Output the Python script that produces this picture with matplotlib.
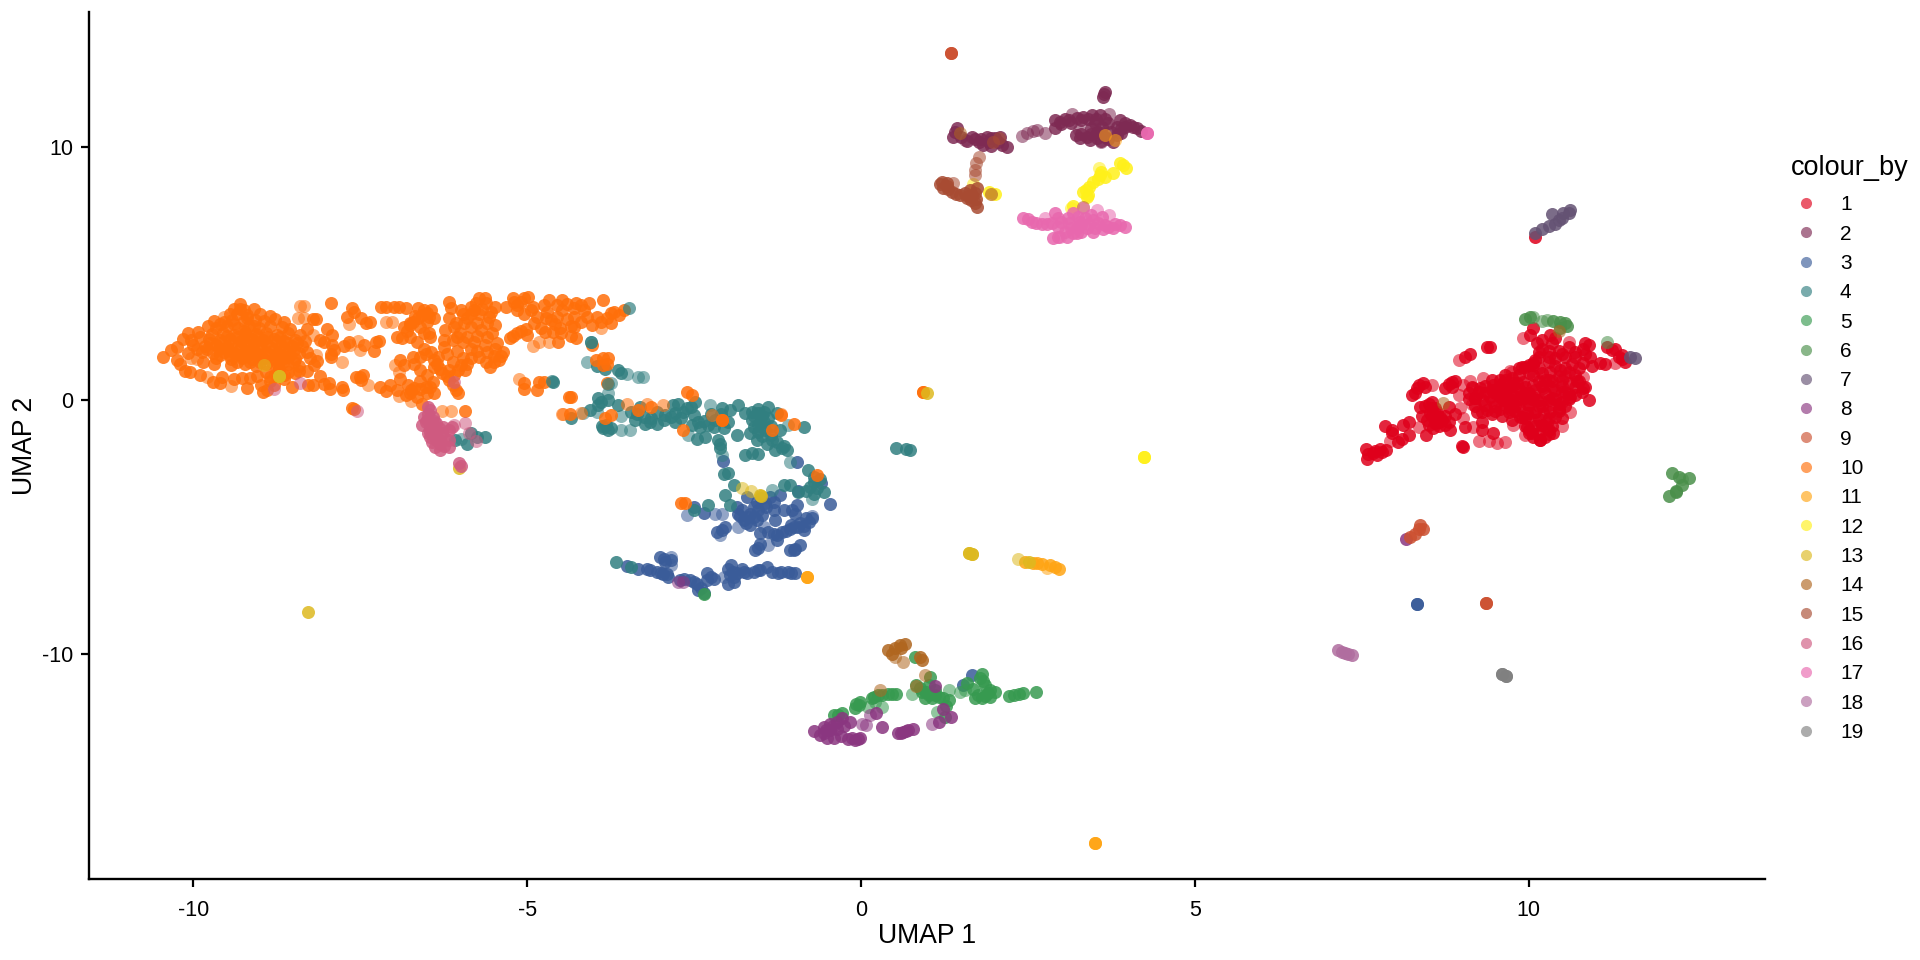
import matplotlib
matplotlib.use("Agg")
import matplotlib.pyplot as plt
from matplotlib.lines import Line2D

plt.rcParams['font.family'] = ['Liberation Sans', 'DejaVu Sans']
plt.rcParams['axes.unicode_minus'] = False

# UMAP coordinates, one list per cluster
pts_1 = [(10.1,6.46),(9.42,2.12),(9.37,2.09),(9.12,1.83),(9.05,1.7),(10.0,1.4),(9.9,1.33),(10.07,1.46),
 (10.07,2.84),(10.02,2.58),(10.12,2.25),(10.2,2.05),(10.32,2.58),(10.35,2.25),(10.4,2.45),(10.85,2.25),(10.9,2.18),
 (10.82,2.05),(11.17,2.12),(11.3,2.05),(11.4,1.79),(11.45,1.53),(11.35,1.72),(11.07,1.49),(11.15,1.45),(10.92,1.72),
 (10.82,1.46),(10.7,1.72),(10.55,1.72),(10.4,1.66),(10.3,1.72),(10.07,1.4),(9.95,1.33),(10.6,1.13),(10.47,1.2),
 (10.32,1.13),(10.2,1.07),(10.07,1.0),(10.65,1.45),(9.92,.74),(9.77,.67),(9.62,.67),(10.07,.6),(10.22,.5),(10.6,.67),
 (10.4,.41),(10.82,.48),(10.7,.21),(10.9,0),(10.5,-.05),(10.07,.15),(9.95,.08),(9.82,.15),(9.67,.15),(10.17,0),
 (9.72,-.25),(9.62,.01),(9.97,-.51),(9.87,-.64),(10.22,-.51),(10.32,-.45),(10.4,-.64),(10.5,-.71),(10.07,-.77),
 (10.27,-.9),(10.37,-1.3),(10.17,-1.56),(10.07,-1.43),(10.0,-1.17),(10.25,-1.43),(10.3,-1.15),
 (8.42,.67),(8.32,.48),(8.25,.21),(8.85,.74),(8.75,.48),(8.5,-.12),(8.37,-.25),(8.6,-.3),(9.57,.8),(9.47,.6),(9.27,.48),
 (9.3,0),(9.42,.15),(9.62,.41),(9.82,.67),(9.57,.15),(9.75,0),(9.95,.28),(9.37,-.38),(9.22,-.45),(9.57,-.32),(9.72,-.32),
 (9.97,-.12),(10.12,0),(10.02,-.51),(9.9,-.64),(9.97,-1.04),(10.05,-1.3),(10.17,-1.56),(8.52,-.51),(8.67,-.64),(8.75,-.97),
 (8.47,-.77),(8.57,-1.1),(8.82,-1.17),(8.8,-.25),(9.05,-1.04),(9.3,-.84),(9.3,-1.17),(9.47,-1.3),(9.02,-1.85),(9.0,-1.8),
 (8.2,-.84),(8.12,-.97),(7.85,-1.0),(7.95,-1.3),(8.05,-1.63),(8.2,-1.37),(8.46,-1.38),(7.77,-1.9),(7.67,-2.09),(7.58,-2.29),
 (7.56,-1.93),(7.73,-2.15),(7.87,-1.96),(7.8,-2.05),(8.6,-.6),(8.65,-.85),(8.4,-.6),(8.55,-.3),(9.5,.35),(9.7,.5),(9.85,.45),
 (10.25,.8),(10.1,.4),(10.35,.75),(9.75,.9),(9.45,.4),(9.2,.1),(9.35,.3),(9.85,-.25),(10.2,-.2),(10.35,.1),(9.6,-.6),
 (9.45,-.55),(9.75,-.75),(10.2,-.95),(10.45,-.35),(10.55,.35),(10.3,1.5),(10.15,1.72),(10.45,1.95),(10.6,2.1)]
pts_1 += [(9.85,1.3),(10.15,1.3),(10.4,1.35),(10.55,1.3),(10.75,1.28),(10.95,1.35),(9.65,1.0),(9.85,1.02),(10.0,1.08),(10.45,.98),(10.7,1.0),
 (9.45,.8),(9.65,.82),(10.15,.78),(10.3,.82),(10.5,.8),(10.72,.78),(9.15,.55),(9.35,.58),(9.55,.53),(9.75,.56),(9.95,.52),(10.2,.57),(10.35,.53),(10.5,.56),(10.7,.52),
 (9.1,.3),(9.25,.33),(9.5,.28),(9.65,.32),(9.8,.27),(10.0,.31),(10.25,.28),(10.5,.33),(10.6,.27),(10.8,.32),(9.1,.05),(9.2,.08),(9.45,.03),(9.65,.07),(9.85,.04),(10.05,.06),(10.3,.03),(10.4,.07),(10.6,.04),
 (9.2,-.2),(9.35,-.17),(9.5,-.22),(9.65,-.18),(9.8,-.22),(10.0,-.18),(10.15,-.22),(10.3,-.18),(10.55,-.22),(9.3,-.45),(9.5,-.43),(9.7,-.47),(9.8,-.43),(10.1,-.46),(10.45,-.43),
 (9.95,-.7),(10.15,-.72),(10.3,-.68),(9.95,-1.0),(10.1,-1.02),(10.2,-.98),(10.35,-1.0),(10.0,-1.3),(10.15,-1.28),(10.3,-1.32),(10.1,1.6),(10.3,1.95),(10.5,1.85),(10.7,1.9),(10.85,1.85),(10.2,2.4),(10.15,1.9),
 (8.35,.6),(8.45,.55),(8.3,.3),(8.55,-.05),(8.45,-.2),(8.62,-.45),(8.75,-.6),(8.55,-.6),(8.8,-.85),(8.65,-1.0),(8.5,-.95),(8.9,-.55),(8.85,.55),(8.8,.65),(8.9,.75),(8.7,-.75),(8.6,-.9),
 (7.6,-2.1),(7.7,-2.0),(7.95,-1.15),(8.1,-1.5),(10.75,.75),(10.85,.55),(10.45,-.15),(10.62,.15),(11.25,2.0),(11.4,1.65)]
light_1 = [(8.95,1.59),(9.75,1.13),(9.92,2.45),(10.61,2.32),(11.3,1.46),(9.72,1.17),(10.82,.94),(10.62,-.45),(9.95,-1.37),
 (9.77,-.97),(9.65,-1.63),(10.5,-1.0),(8.55,.6),(9.02,.6),(9.17,.48),(9.32,.87),(8.97,-.31),(9.02,-.71),(9.17,-1.04),
 (9.25,-1.59),(9.4,-1.59),(9.52,-1.67),(8.35,-1.04),(7.92,-1.59),(9.12,.75),(9.15,-.15),(8.95,.2),(10.55,.95)]

pts_2 = [(3.65,12.18),(3.63,11.98),(2.91,11.06),(2.98,10.99),(3.11,11.06),(3.23,11.13),(3.33,11.19),(3.46,11.26),(3.58,11.26),
 (2.91,10.73),(3.51,10.93),(3.53,10.6),(3.61,10.8),(3.88,11.06),(3.96,10.93),(4.03,10.86),(4.13,10.73),(4.2,10.64),(3.83,10.8),
 (3.28,10.34),(3.38,10.4),(3.53,10.34),(3.66,10.4),(3.83,10.47),(3.78,10.2),(3.43,10.27),(1.43,10.73),(1.37,10.4),(1.66,10.4),
 (1.76,10.2),(1.88,10.4),(1.91,10.2),(2.01,10.34),(2.08,10.4),(2.18,10.01),(2.11,10.07),(1.83,10.07),(1.7,10.3)]
pts_2 += [(3.0,10.9),(3.05,11.1),(3.15,10.95),(3.3,11.05),(3.4,11.1),(3.52,11.1),(3.65,11.1),(3.7,10.95),(3.45,10.75),(3.3,10.5),(3.45,10.5),(3.6,10.55),(3.75,10.6),(3.9,10.7),
 (3.95,10.8),(4.08,10.8),(3.22,10.45),(3.6,10.25),(3.7,10.3),(3.9,10.55),(1.5,10.4),(1.58,10.25),(1.8,10.3),(1.95,10.35),(2.05,10.2),(1.95,10.05),(1.4,10.6),(3.64,12.08)]
light_2 = [(3.16,11.3),(3.71,11.3),(3.6,10.2),(3.26,10.67),(2.41,10.43),(2.48,10.53),(2.58,10.64),(2.63,10.67),(2.76,10.56),(1.56,10.27)]

pts_3 = [(-2.07,-2.39),(-.96,-2.42),(-.6,-3.27),(-.47,-4.09),(-.94,-3.56),(-2.51,-4.2),(-2.36,-4.42),(-2.16,-5.18),(-2.09,-5.11),
 (-2.04,-4.98),(-1.86,-4.19),(-1.84,-4.46),(-1.76,-4.72),(-1.66,-4.92),(-1.56,-4.72),(-1.66,-4.46),(-1.54,-4.32),(-1.44,-4.06),
 (-1.36,-3.8),(-1.56,-3.99),(-1.71,-3.8),(-1.21,-3.73),(-1.31,-4.32),(-1.29,-4.72),(-1.16,-4.32),(-.96,-4.13),(-.99,-4.46),
 (-.82,-4.65),(-.74,-4.65),(-.91,-4.85),(-1.06,-5.05),(-1.19,-5.18),(-1.26,-5.31),(-.86,-5.11),(-1.26,-5.51),(-1.51,-5.24),
 (-1.39,-5.18),(-1.51,-5.64),(-1.59,-5.9),(-1.06,-5.9),(-.99,-5.86),(-.91,-5.7),(-3.51,-6.53),(-3.34,-6.63),(-3.16,-6.69),
 (-3.06,-6.76),(-2.96,-6.85),(-2.89,-6.95),(-3.01,-6.17),(-2.94,-6.36),(-2.84,-6.3),(-2.71,-7.09),(-2.56,-7.09),(-2.46,-7.22),
 (-2.36,-7.61),(-2.44,-7.48),(-2.31,-6.82),(-2.31,-7.09),(-2.21,-7.02),(-1.99,-6.63),(-1.96,-6.89),(-1.99,-7.22),(-1.91,-7.15),
 (-1.86,-6.82),(-1.79,-6.63),(-1.71,-6.82),(-1.61,-6.76),(-1.51,-6.69),(-1.41,-6.56),(-1.34,-6.76),(-1.24,-6.8),(-1.09,-6.76),
 (-.99,-6.82),(-1.95,-6.5),(8.32,-8.03),(8.32,-8.03),(1.66,-10.83),(1.52,-11.23)]
pts_3 += [(-1.78,-4.3),(-1.7,-4.6),(-1.6,-4.2),(-1.48,-4.5),(-1.42,-4.2),(-1.5,-3.85),(-1.3,-4.0),(-1.82,-4.55),(-1.72,-4.85),(-1.6,-4.6),(-1.05,-4.9),(-1.0,-5.0),(-.95,-5.0),(-1.12,-5.15),(-1.3,-5.25),
 (-.86,-4.95),(-.78,-4.8),(-1.03,-4.3),(-1.55,-5.8),(-1.0,-5.9),(-3.2,-6.65),(-3.0,-6.8),(-2.9,-6.85),(-2.65,-7.05),(-2.5,-7.15),(-2.4,-7.4),(-2.95,-6.25),(-2.25,-6.95),(-1.92,-6.75),(-1.9,-6.95),
 (-1.75,-6.75),(-1.55,-6.7),(-1.2,-6.75),(-1.05,-6.8)]
light_3 = [(-2.6,-4.52),(-2.19,-4.46),(-2.09,-4.46),(-2.11,-5.31),(-1.84,-4.98),(-2.84,-6.17),(-2.84,-6.5),(-2.06,-6.95),(-.74,-4.55),
 (-1.45,-5.0),(-1.4,-5.7)]

pts_4 = [(-4.61,.74),(-3.96,1.36),(-3.84,1.26),(-3.64,1.2),(-3.59,1.07),(-3.94,.08),(-3.94,-.18),(-3.79,.01),(-3.64,-.18),(-4.06,-.38),
 (-4.34,-.71),(-3.86,-1.1),(-3.79,-1.17),(-3.74,-1.1),(-3.44,-.44),(-3.39,-.77),(-3.31,-.25),(-3.24,-.91),(-3.16,-.84),(-3.06,-.91),
 (-3.06,-.45),(-2.94,-.58),(-2.81,-.18),(-2.79,-.51),(-2.79,-.84),(-2.66,-.45),(-2.74,-.12),(-2.49,-.05),(-2.54,-.97),(-2.46,-1.5),
 (-2.34,-1.43),(-2.41,-1.04),(-2.29,-.97),(-2.51,-.58),(-2.09,-.31),(-2.19,-.77),(-1.96,-.38),(-1.84,-.18),(-2.06,-1.1),(-1.86,-1.37),
 (-2.14,-1.56),(-2.11,-1.89),(-1.64,-.45),(-1.54,-.51),(-1.39,-.25),(-1.64,-.77),(-1.51,-.84),(-1.39,-.71),(-1.26,-.51),(-1.66,-1.3),
 (-1.54,-1.23),(-1.44,-1.17),(-1.56,-1.56),(-1.41,-1.7),(-1.26,-1.63),(-1.19,-1.89),(-1.11,-1.96),(-1.29,-1.96),(-1.21,-1.17),(-1.74,-.51),
 (-.86,-1.04),(-1.74,-2.15),(-1.64,-2.09),(-1.54,-2.11),(-2.06,-2.9),(-1.99,-2.85),(-1.9,-3.34),(-2.04,-3.71),(-1.96,-4.13),(-.79,-2.75),
 (-.71,-3.01),(-.61,-3.08),(-.76,-3.4),(-.71,-3.67),(-.56,-3.6),(-1.16,-3.34),(-1.06,-3.34),(-.94,-3.6),(-2.51,-4.32),(-2.29,-4.13),
 (-3.67,-6.36),(-3.44,-6.56),(.53,-1.86),(.68,-1.93),(.73,-1.96),(-6.08,-1.56),(-5.9,-1.7),(-5.85,-1.3),(-5.64,-1.43),(-5.75,-1.43)]
pts_4 += [(-3.9,-.05),(-3.35,-.55),(-3.25,-.65),(-3.15,-.7),(-2.95,-.75),(-2.85,-.65),(-2.7,-.7),(-2.6,-.3),(-2.55,-.25),(-2.45,-.85),(-2.35,-.8),(-2.2,-1.05),(-2.25,-.55),(-2.1,-.55),(-2.0,-.85),
 (-1.55,-.35),(-1.45,-.45),(-1.6,-.6),(-1.48,-.6),(-1.55,-.95),(-1.6,-1.05),(-1.47,-1.05),(-1.35,-1.0),(-1.35,-1.35),(-1.48,-1.4),(-1.33,-1.55),(-1.15,-1.8),(-2.12,-1.72),(-.7,-3.2),(-.66,-3.45),(-.82,-3.55),(-3.88,-1.0),(-3.82,-.95),(-1.45,-.85)]
light_4 = [(-3.51,1.04),(-3.34,.94),(-3.27,.91),(-3.74,.67),(-3.79,.28),(-4.16,-.51),(-3.59,-1.17),(-3.46,-1.17),(-2.59,-1.37),(-2.26,-.18),
 (-1.09,-.97),(-2.09,-2.15),(-1.06,-2.42),(-1.34,-3.54),(-.74,-3.87),(-3.95,-.45),(-3.6,-.6),(-4.1,1.5),(-6.0,-1.5)]
top_4 = [(-3.47,3.63),(-4.05,2.3),(-4.05,2.3),(-4.63,.76),(-3.79,.65)]

pts_5 = [(-.07,-11.95),(-.02,-11.88),(-.09,-12.11),(.16,-11.75),(.26,-11.62),(.41,-11.58),(.53,-11.58),(.83,-11.23),(.91,-11.49),(.96,-11.75),
 (1.06,-11.75),(1.03,-10.9),(1.01,-11.23),(1.11,-11.62),(1.23,-11.75),(1.31,-11.82),(1.26,-12.48),(1.27,-12.06),(1.58,-11.16),(1.68,-11.36),
 (1.81,-10.77),(1.78,-10.96),(1.86,-11.23),(1.93,-11.42),(2.01,-11.49),(1.71,-11.75),(1.81,-11.75),(1.93,-11.69),(2.21,-11.66),(2.36,-11.58),
 (2.43,-11.53),(2.62,-11.49),(-.41,-12.41),(-.29,-12.34),(.81,-10.11),(-2.36,-7.62)]
pts_5 += [(-.03,-12.0),(.2,-11.7),(.32,-11.6),(.47,-11.58),(.88,-11.35),(.98,-11.5),(1.02,-11.6),(1.17,-11.68),(1.1,-11.4),(1.9,-11.55),(1.75,-11.6),(1.85,-11.65),(1.82,-11.05),(2.29,-11.62),(-.35,-12.4)]
light_5 = [(.11,-12.08),(.31,-12.08),(.21,-11.88),(.76,-11.58),(1.31,-11.42),(1.13,-12.28),(1.48,-11.49),(1.56,-11.4)]

pts_6 = [(9.95,3.2),(10.02,3.28),(10.37,3.14),(10.47,3.1),(10.55,3.04),(10.57,2.94),(10.47,2.84),(12.15,-2.85),(12.25,-3.0),(12.4,-3.05),(12.3,-3.35),
 (12.2,-3.55),(12.1,-3.75),(12.2,-3.62)]
light_6 = [(10.07,3.28),(10.27,3.17),(11.17,2.32),(10.2,3.15),(12.3,-3.1)]

pts_7 = [(10.1,6.59),(10.2,6.75),(10.3,6.88),(10.4,6.96),(10.35,7.35),(10.5,7.18),(10.6,7.38),(10.62,7.51),(10.52,7.38),(10.45,7.1),(11.59,1.66),(11.52,1.72)]

pts_8 = [(1.11,-11.27),(1.23,-12.15),(1.34,-12.48),(1.16,-12.67),(-.71,-13.03),(-.56,-12.87),(-.46,-12.74),(-.36,-12.67),(-.29,-12.54),(-.61,-13.2),
 (-.51,-13.29),(-.41,-13.29),(-.46,-13.0),(-.36,-12.94),(-.19,-13.33),(-.09,-13.37),(-.01,-13.29),(-.17,-12.67),(.23,-12.32),(.32,-12.87),
 (.56,-13.11),(.63,-13.07),(.71,-13.0),(.78,-12.94),(8.16,-5.46)]
pts_8 += [(-.52,-13.0),(-.3,-13.25),(-.25,-12.85),(-.14,-13.3),(-.05,-13.33),(.6,-13.1),(.67,-13.03),(-.55,-13.1),(-.42,-12.85)]
light_8 = [(1.06,-12.74),(.01,-12.77),(.08,-12.81),(.13,-12.41),(-2.74,-7.15),(-2.66,-7.15)]

pts_9 = [(1.35,13.72),(1.35,13.72),(8.37,-4.92),(8.42,-5.05),(8.35,-5.05),(8.22,-5.4),(8.3,-5.25),(9.36,-7.97),(9.36,-7.97)]

pts_10 = [(-9.3,3.82),(-9.4,3.6),(-9.3,3.6),(-9.1,3.6),(-9.45,3.4),(-9.35,3.42),(-9.2,3.38),(-9.0,3.4),(-8.85,3.35),
 (-9.7,3.15),(-9.55,3.1),(-9.42,3.18),(-9.25,3.12),(-9.08,3.17),(-8.95,3.14),(-8.78,3.2),(-8.65,3.1),
 (-9.78,2.95),(-9.66,2.86),(-9.5,2.92),(-9.33,2.87),(-9.17,2.93),(-9.02,2.85),(-8.85,2.92),(-8.68,2.88),(-8.55,2.8),
 (-10.08,2.65),(-9.93,2.72),(-9.72,2.62),(-9.56,2.67),(-9.4,2.6),(-9.23,2.68),(-9.07,2.63),(-8.91,2.67),(-8.75,2.6),(-8.58,2.66),(-8.4,2.6),
 (-10.15,2.42),(-10.03,2.38),(-9.77,2.43),(-9.61,2.37),(-9.45,2.42),(-9.29,2.36),(-9.12,2.43),(-8.96,2.38),(-8.8,2.42),(-8.64,2.36),(-8.48,2.4),(-8.33,2.33),
 (-10.25,2.12),(-10.0,2.18),(-9.82,2.13),(-9.66,2.17),(-9.5,2.12),(-9.34,2.18),(-9.18,2.13),(-9.02,2.17),(-8.85,2.12),(-8.69,2.18),(-8.53,2.13),(-8.37,2.15),
 (-10.33,1.98),(-10.08,1.88),(-9.87,1.93),(-9.71,1.87),(-9.55,1.92),(-9.39,1.87),(-9.23,1.93),(-9.07,1.88),(-8.91,1.92),(-8.74,1.87),(-8.58,1.93),(-8.42,1.88),(-8.3,1.9),
 (-10.46,1.7),(-10.25,1.6),(-9.66,1.67),(-9.44,1.62),(-9.28,1.68),(-9.12,1.63),(-8.96,1.67),(-8.8,1.62),(-8.64,1.68),(-8.48,1.63),(-8.26,1.66),
 (-10.2,1.42),(-9.44,1.38),(-9.23,1.42),(-9.07,1.37),(-8.91,1.42),(-8.74,1.38),(-8.58,1.42),(-8.42,1.37),(-8.2,1.4),
 (-10.13,1.17),(-10.05,1.13),(-8.91,1.12),(-8.74,1.17),(-8.58,1.13),(-8.42,1.15),
 (-9.71,.74),(-9.58,.91),(-9.2,.51),(-9.28,.87),(-9.15,.87),(-8.96,.34),(-8.99,.6),(-8.8,.6),(-8.85,.94),(-8.53,.54),(-8.64,.99),(-8.48,1.07),(-8.72,1.26),
 (-8.21,.6),(-8.29,.6),(-7.97,.67),(-8.05,.64),(-7.78,.54),(-7.76,.41),(-7.51,.94),(-7.46,1.0),(-7.57,.94),(-7.49,.8),
 (-8.21,3.2),(-8.16,3.2),(-7.94,3.85),(-7.62,3.63),(-7.59,3.5),(-7.49,3.24),(-7.35,3.1),(-7.42,3.05),(-7.92,2.58),(-8.05,2.32),(-7.92,2.2),(-7.94,1.85),
 (-7.89,1.99),(-7.94,1.7),(-7.67,2.32),(-7.27,2.32),(-7.22,2.34),(-7.19,3.67),(-7.11,3.67),(-7.0,3.67),(-6.92,3.67),(-6.82,3.63),(-6.63,3.63),(-6.44,3.57),(-6.58,3.37),
 (-6.39,3.24),(-6.47,3.3),(-6.63,3.24),(-6.71,3.1),(-6.84,2.9),(-6.76,2.97),(-6.55,2.65),(-6.47,2.65),(-6.87,2.45),(-6.76,2.51),
 (-6.17,3.9),(-6.15,3.63),(-6.17,3.24),(-6.23,2.78),(-5.96,3.43),(-5.85,3.7),(-5.85,3.43),(-5.72,4.03),(-5.64,4.03),(-5.77,3.83),(-5.72,3.43),(-5.58,3.3),(-5.48,3.7),
 (-5.48,2.97),(-5.85,2.9),(-5.69,2.78),(-5.53,2.65),(-6.01,2.65),(-6.07,3.04),(-6.12,2.38),(-5.96,2.3),(-5.8,2.3),(-5.64,2.2),(-5.48,2.05),(-5.37,1.92),(-5.42,1.59),
 (-5.56,1.33),(-5.72,1.72),(-5.85,1.66),(-5.96,1.66),(-6.12,1.53),(-6.04,1.2),(-6.17,1.2),(-5.93,1.2),(-5.6,1.9),(-5.5,1.75),
 (-5.21,4.03),(-5.05,4.03),(-4.99,4.09),(-5.15,3.76),(-5.32,3.7),(-5.05,3.43),(-4.91,3.7),(-4.67,3.96),(-4.48,3.96),(-4.27,3.83),(-4.08,3.83),(-3.87,3.96),(-3.7,3.5),
 (-3.63,3.37),(-3.55,3.57),(-3.89,3.1),(-4.03,2.97),(-4.3,3.3),(-4.3,3.63),(-4.48,3.57),(-4.7,3.5),(-4.64,3.17),(-4.51,2.84),(-4.62,2.7),(-4.73,2.7),(-4.27,2.45),(-4.3,2.9),
 (-4.54,2.3),(-5.02,2.8),(-5.15,2.65),(-5.26,2.45),
 (-6.9,1.6),(-6.71,1.7),(-6.6,1.7),(-6.44,1.92),(-6.33,1.73),(-6.39,1.33),(-6.28,1.07),(-6.17,.8),(-6.07,.41),(-6.04,.28),(-6.1,1.0),
 (-7.06,.6),(-7.11,.38),(-6.79,.6),(-6.74,.41),(-6.82,.21),(-6.58,-.12),(-6.52,.54),(-6.41,.74),(-6.39,.28),(-6.5,.3),
 (-5.93,-.4),(-5.05,.67),(-5.05,.47),(-4.83,.74),(-4.75,.74),(-4.86,.41),(-4.38,.14),(-4.35,.12),(-4.36,-.55),
 (-4.03,2.2),(-3.97,1.6),(-3.87,1.66),(-3.79,1.66),(-3.87,1.4),(-3.8,1.45),(-3.81,.67),(-7.95,.47),(-7.62,-.31),(-7.6,-.35),
 (-3.84,-.71),(-3.74,-.58),(-3.34,-.38),(-3.14,-.25),(-2.61,.32),(-2.54,.21),(-2.66,-1.17),(-2.09,-.77),(-2.09,-.77),(-1.34,-1.17),(-1.2,-.58),(-1.01,-.93),
 (-.66,-2.94),(-2.69,-4.03),(-2.64,-4.06),(.93,.35),(.93,.35)]
pts_10 += [(-9.25,3.55),(-9.2,3.25),(-9.6,3.0),(-9.4,3.0),(-9.25,2.75),(-9.1,2.95),(-9.5,2.55),(-9.35,2.5),(-9.2,2.55),(-9.05,2.5),(-8.9,2.5),(-8.7,2.5),(-9.9,2.5),(-9.75,2.28),(-9.6,2.25),(-9.42,2.28),(-9.25,2.25),
 (-9.1,2.25),(-8.92,2.25),(-8.75,2.25),(-8.6,2.25),(-8.45,2.25),(-9.95,2.05),(-9.8,2.02),(-9.62,2.02),(-9.48,2.0),(-9.3,2.03),(-9.15,2.0),(-9.0,2.03),(-8.8,2.0),(-8.65,2.03),(-8.5,2.0),
 (-9.6,1.8),(-9.45,1.78),(-9.3,1.78),(-9.17,1.78),(-9.0,1.78),(-8.85,1.78),(-8.7,1.78),(-8.55,1.78),(-9.35,1.52),(-9.15,1.52),(-9.0,1.52),(-8.82,1.52),(-8.66,1.52),(-8.5,1.52),(-8.78,1.05),(-8.65,.85),(-8.85,.75),
 (-6.55,3.55),(-6.75,3.05),(-6.68,3.35),(-6.5,3.45),(-6.8,2.75),(-6.45,2.5),(-6.52,1.85),(-6.4,1.6),(-6.35,1.45),(-6.3,1.25),(-6.2,.95),(-6.12,.6),
 (-6.0,3.55),(-5.9,3.25),(-5.8,3.55),(-5.68,3.6),(-5.62,3.85),(-5.55,3.5),(-5.6,3.05),(-5.75,3.05),(-5.95,3.05),(-6.1,2.9),(-5.6,2.5),(-5.75,2.55),(-5.9,2.5),(-5.45,2.25),(-5.4,1.75),(-5.5,1.5),(-5.62,1.5),
 (-6.05,2.5),(-6.0,1.4),(-5.9,1.45),(-5.1,3.9),(-5.15,3.55),(-5.2,3.9),(-4.95,3.55),(-4.75,3.75),(-4.55,3.75),(-4.4,3.8),(-4.2,3.75),(-4.15,3.55),(-3.95,3.3),(-3.8,3.25),(-3.75,3.45),(-4.72,3.25),(-4.58,3.0),
 (-4.5,2.65),(-4.35,2.95),(-4.35,2.55),(-5.1,2.75),(-5.0,2.6),(-5.22,2.55),(-6.6,.45),(-6.7,.5),(-6.75,.3),(-6.45,.55)]
pts_10 += [(-6.6,2.9),(-6.5,3.1),(-6.95,2.5),(-6.65,2.3),(-6.55,2.05),(-6.25,2.4),(-6.25,2.1),(-6.05,1.95),(-5.85,2.05),(-6.2,1.85),(-5.75,1.95),(-6.7,1.45),(-6.6,1.2),(-6.85,1.4),(-6.5,1.0),(-6.9,.85),(-6.6,.75),
 (-6.95,.4),(-6.65,.15),(-7.2,.55),(-4.85,3.3),(-4.9,3.05),(-4.8,2.85),(-4.2,3.1),(-4.1,3.3),(-4.55,3.3),(-4.4,3.2),(-3.75,3.05),(-7.3,1.95),(-7.45,2.2),(-8.0,2.8),(-8.1,2.4),(-7.75,2.15),(-7.7,3.3),(-8.3,2.8),
 (-8.15,1.55),(-8.1,.95),(-8.3,1.15),(-9.9,1.0),(-9.6,.7),(-9.4,.85),(-9.05,.95),(-8.9,.42),(-9.85,1.5),(-9.7,1.45)]
light_10 = [(-9.79,.91),(-9.44,.57),(-10.03,1.66),(-9.95,1.62),(-8.4,3.74),(-8.35,3.74),(-8.43,3.24),(-8.35,3.24),(-8.21,2.58),(-8.16,1.79),(-7.78,1.53),(-7.65,2.18),
 (-7.51,2.0),(-7.54,2.35),(-7.67,3.0),(-7.11,3.1),(-7.03,3.1),(-7.38,.6),(-6.92,1.13),(-6.98,1.4),(-6.92,.17),(-6.74,-.01),(-6.28,-.4),(-6.15,-.4),(-5.13,.83),(-3.89,2.84),
 (-4.67,2.3),(-4.83,2.3),(-4.91,2.15),(-4.48,-.54),(-4.46,-.55),(-4.19,-.51),(-3.51,-.14),(-3.21,-.12),(-2.96,-.16),(-2.24,-.58),(-1.2,-.55),(-9.55,3.28)]

pts_11 = [(2.46,-6.36),(2.58,-6.4),(2.71,-6.43),(2.83,-6.49),(2.96,-6.65),(2.91,-6.56),(2.63,-6.42),(3.5,-17.44),(3.5,-17.44),(-.81,-6.98),(-.81,-6.98)]
light_11 = [(2.78,-6.62),(3.65,10.47),(3.81,10.27)]

pts_12 = [(3.88,9.38),(3.97,9.18),(3.78,8.96),(3.58,8.89),(3.66,8.83),(3.48,8.63),(3.41,8.43),(3.33,8.23),(3.38,8.01),(3.18,7.67),(4.24,-2.22),(4.24,-2.22),(1.91,8.21),(2.01,8.14)]
pts_12 += [(3.55,8.75),(3.37,8.3),(3.4,8.1),(3.92,9.3),(3.6,9.0)]
light_12 = [(3.57,9.15),(3.14,7.58),(1.68,8.54),(1.94,8.14)]

pts_13 = [(1.61,-6.0),(1.66,-6.06),(1.61,-6.0),(1.66,-6.06),(2.51,-6.36),(.99,.28),(-8.28,-8.36),(-8.72,.98),(-8.72,.98),(-1.52,-3.71),(-1.5,-3.75),(-6.02,-2.68)]
light_13 = [(2.35,-6.27),(-1.79,-3.44),(-1.65,-3.56),(-8.95,1.4)]

pts_14 = [(.41,-9.85),(.51,-9.78),(.58,-9.65),(.66,-9.61),(.46,-9.98),(.88,-10.11),(.91,-10.24),(.6,-9.75)]
light_14 = [(.63,-10.31),(.51,-10.11),(.96,-10.83),(.83,-11.27),(.28,-11.42),(1.48,10.53),(8.72,-.09),(10.45,2.75),(3.32,7.64)]

pts_15 = [(1.21,8.63),(1.18,8.55),(1.23,8.37),(1.36,8.23),(1.48,8.1),(1.63,8.3),(1.73,8.37),(1.58,7.97),(1.71,7.77),(1.73,7.64),(1.66,8.1),(1.28,8.56)]
pts_15 += [(1.3,8.35),(1.42,8.15),(1.55,8.2),(1.65,7.9),(1.28,8.45),(1.7,8.2),(1.6,8.05),(1.72,7.95)]
light_15 = [(1.38,8.56),(1.76,9.61),(1.72,9.38),(1.71,9.09),(1.71,8.89),(1.98,10.2),(2.06,10.35),(1.94,8.14)]

pts_16 = [(-6.46,-.38),(-6.54,-.64),(-6.58,-.97),(-6.46,-1.04),(-6.36,-.9),(-6.46,-1.43),(-6.36,-1.56),(-6.31,-1.96),(-6.18,-1.83),(-6.28,-1.3),(-6.18,-1.17),(-6.13,-1.04),
 (-6.26,-1.04),(-6.49,-.25),(-6.41,-.64),(-6.5,-.77),(-6.18,-1.56),(-6.38,-1.83),(-6.31,-1.7),(-6.02,-2.48),(-6.0,-2.58)]
pts_16 += [(-6.48,-.55),(-6.52,-.85),(-6.4,-.8),(-6.38,-1.2),(-6.45,-1.25),(-6.25,-1.45),(-6.3,-1.55),(-6.25,-1.8),(-6.42,-1.65),(-6.4,-1.0),(-6.32,-1.1),(-6.48,-1.3)]
light_16 = [(-5.93,-.88),(-5.88,-1.3),(-5.77,-1.59),(-6.1,-.95),(-8.8,.45),(-6.1,.74),(-7.55,-.4),(-8.4,.67)]

pts_17 = [(2.43,7.2),(2.56,7.05),(2.71,6.96),(2.91,7.38),(2.86,6.98),(2.88,6.39),(3.08,6.46),(3.11,6.98),(3.18,7.38),(3.23,6.79),(3.38,6.79),(3.36,7.18),(3.48,7.12),
 (3.61,7.25),(3.66,6.92),(3.78,6.79),(3.88,6.92),(3.96,6.83),(3.48,6.66),(3.23,6.59),(3.28,7.05),(4.28,10.54),(4.28,10.54)]
pts_17 += [(2.5,7.15),(2.62,7.0),(2.78,6.95),(2.95,7.2),(3.0,7.05),(3.1,7.2),(3.15,6.8),(3.05,6.65),(2.95,6.45),(3.18,6.6),(3.3,6.65),(3.42,6.95),(3.55,7.0),(3.5,6.8),(3.62,6.75),(3.7,6.85),(3.8,6.95),(3.25,7.25),(3.45,7.3),(3.3,6.95),(2.95,6.85)]
light_17 = [(3.53,7.51),(3.33,7.6),(2.98,6.45),(3.72,7.3),(2.75,7.2)]

pts_18 = [(7.15,-9.85),(7.2,-9.9),(7.25,-9.95),(7.3,-10.0),(7.35,-10.05)]
pts_19 = [(9.6,-10.77),(9.66,-10.86),(9.6,-10.77),(9.66,-10.86)]

cluster_labels = [str(i) for i in range(1, 20)]
cluster_colors = ["#DF001B", "#7E2A53", "#3A5C99", "#317F80", "#379A50", "#4A8F4A", "#645273", "#8A3680", "#CC5030", "#FF6F0A",
                  "#FFA514", "#FFF01A", "#DDB91F", "#B0661F", "#A84B32", "#CF5A80", "#E868AE", "#B06D9F", "#808080"]

solid_lists = [pts_1, pts_2, pts_3, pts_4, pts_5, pts_6, pts_7, pts_8, pts_9, pts_10, pts_11, pts_12, pts_13, pts_14, pts_15, pts_16, pts_17, pts_18, pts_19]
light_lists = [light_1, light_2, light_3, light_4, light_5, light_6, [], light_8, [], light_10, light_11, light_12, light_13, light_14, light_15, light_16, light_17, [], []]

fig = plt.figure(figsize=(19.2, 9.6), dpi=100)
ax = fig.add_axes([89 / 1920, 81 / 960, 1676 / 1920, 867 / 960])

size = 88
for color, solid, light in zip(cluster_colors, solid_lists, light_lists):
    if light:
        ax.scatter(*zip(*light), s=size, color=color, alpha=0.55, linewidths=0)
    ax.scatter(*zip(*solid), s=size, color=color, alpha=0.85, linewidths=0)
ax.scatter(*zip(*top_4), s=size, color=cluster_colors[3], alpha=0.7, linewidths=0)

ax.set_xlim(-11.565, 13.54)
ax.set_ylim(-18.87, 15.32)
ax.set_xticks([-10, -5, 0, 5, 10])
ax.set_yticks([-10, 0, 10])
ax.tick_params(length=6, width=1.6, labelsize=15.5)
ax.tick_params(axis='x', pad=9)
ax.tick_params(axis='y', pad=5)
ax.spines[['top', 'right']].set_visible(False)
ax.spines[['left', 'bottom']].set_linewidth(1.7)
ax.set_xlabel("UMAP 1", fontsize=19.2, labelpad=1.5)
ax.set_ylabel("UMAP 2", fontsize=19.2, labelpad=3)

handles = [Line2D([], [], linestyle='none', marker='o', markersize=8, markeredgewidth=0, color=c, alpha=0.65) for c in cluster_colors]
fig.text(1791 / 1920, 1 - 168 / 960, "colour_by", fontsize=19.5, ha='left', va='center')
fig.legend(handles, cluster_labels, loc='upper left', bbox_to_anchor=(1783 / 1920, 1 - 189 / 960), borderaxespad=0, frameon=False, fontsize=15,
           labelspacing=0.495, handletextpad=0.83, borderpad=0.3, handlelength=1.6)

fig.savefig("out.png", dpi=100)
